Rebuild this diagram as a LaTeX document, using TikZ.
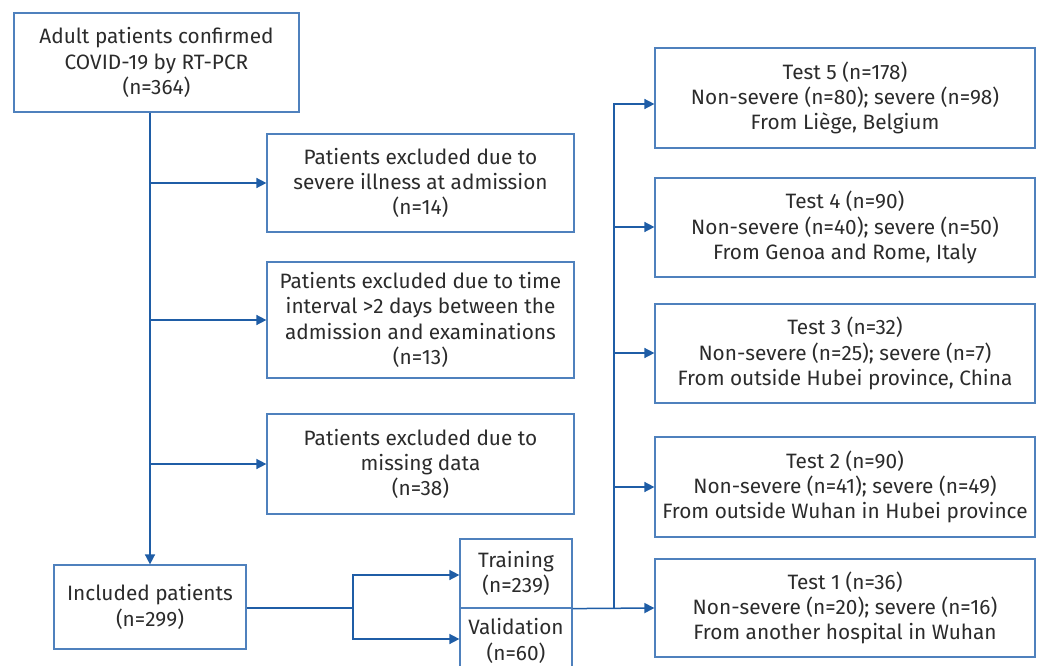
\documentclass[tikz,border=0pt]{standalone}
\usepackage{fontspec}
\setmainfont{Fira Sans}
\usetikzlibrary{arrows.meta}
\definecolor{boxc}{HTML}{4F81BD}
\definecolor{linec}{HTML}{1F5DA6}
\definecolor{txt}{HTML}{2B2B2B}
\tikzset{
 box/.style={draw=boxc, line width=1.2pt, align=center, text=txt,
   font=\fontsize{20.8}{25.3}\selectfont, inner sep=0pt},
 conn/.style={draw=linec, line width=1.5pt},
 arr/.style={conn, -{Triangle[length=10pt,width=10pt]}}
}
\begin{document}
\begin{tikzpicture}[x=1pt,y=-1pt]
\useasboundingbox (0,0) rectangle (1039,666);
\clip (0,0) rectangle (1039,666);
\node[box, minimum width=285pt, minimum height=99pt] (top) at (156.5,62.5)
  {Adult patients confirmed\\COVID-19 by RT-PCR\\(n=364)};
\node[box, minimum width=307pt, minimum height=98pt] (ex1) at (420.5,183)
  {Patients excluded due to\\severe illness at admission\\(n=14)};
\node[box, minimum width=307pt, minimum height=116pt] (ex2) at (420.5,320)
  {Patients excluded due to time\\interval >2 days between the\\admission and examinations\\(n=13)};
\node[box, minimum width=307pt, minimum height=100pt] (ex3) at (420.5,464)
  {Patients excluded due to\\missing data\\(n=38)};
\node[box, minimum width=192pt, minimum height=84pt] (incl) at (150,607)
  {Included patients\\(n=299)};
\node[box, minimum width=112pt, minimum height=69pt] (train) at (516,573.5)
  {Training\\(n=239)};
\node[box, minimum width=112pt, minimum height=66pt] (valid) at (516,641)
  {Validation\\(n=60)};
\node[box, minimum width=380pt, minimum height=100pt] (t5) at (845,98)
  {Test 5 (n=178)\\Non-severe (n=80); severe (n=98)\\From Liège, Belgium};
\node[box, minimum width=380pt, minimum height=99pt] (t4) at (845,227.5)
  {Test 4 (n=90)\\Non-severe (n=40); severe (n=50)\\From Genoa and Rome, Italy};
\node[box, minimum width=380pt, minimum height=99pt] (t3) at (845,353.5)
  {Test 3 (n=32)\\Non-severe (n=25); severe (n=7)\\From outside Hubei province, China};
\node[box, minimum width=380pt, minimum height=100pt] (t2) at (845,487)
  {Test 2 (n=90)\\Non-severe (n=41); severe (n=49)\\From outside Wuhan in Hubei province};
\node[box, minimum width=380pt, minimum height=98pt] (t1) at (845,608)
  {Test 1 (n=36)\\Non-severe (n=20); severe (n=16)\\From another hospital in Wuhan};
% left column
\draw[arr] (incl.north |- top.south) -- (incl.north);
\draw[arr] (incl.north |- ex1.west) -- (ex1.west);
\draw[arr] (incl.north |- ex2.west) -- (ex2.west);
\draw[arr] (incl.north |- ex3.west) -- (ex3.west);
% split
\coordinate (s1) at (353,608);
\draw[conn] (incl.east |- s1) -- (s1);
\draw[arr] (s1) |- ([yshift=-1.5pt]train.west);
\draw[arr] (s1) |- ([yshift=2pt]valid.west);
% tests
\coordinate (v) at (614,608);
\draw[arr] (train.south east) -- (t1.west);
\draw[arr] (v) |- ([yshift=-6pt]t5.west);
\draw[arr] (v) |- ([yshift=0.5pt]t4.west);
\draw[arr] (v) |- ([yshift=0.5pt]t3.west);
\draw[arr] (v) |- (t2.west);
\end{tikzpicture}
\end{document}
